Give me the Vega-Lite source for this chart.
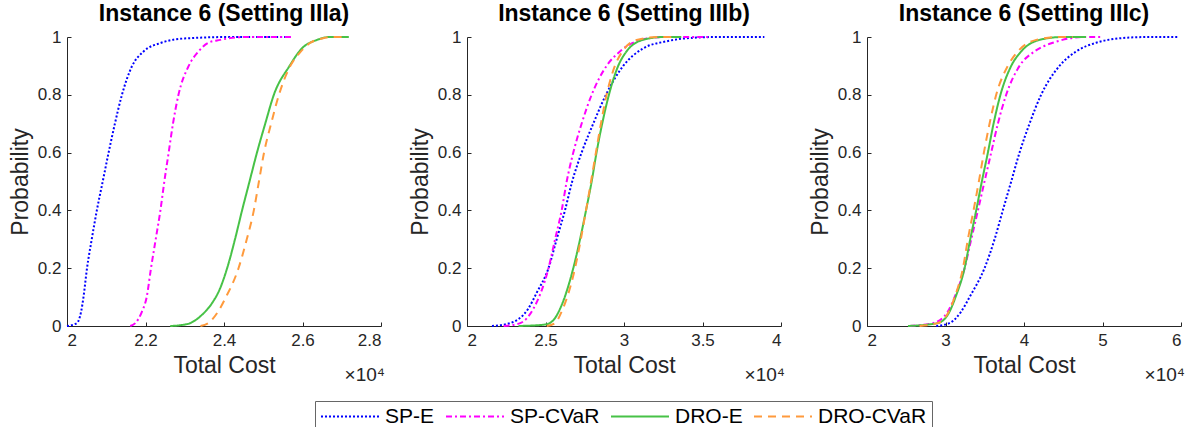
{
  "$schema": "https://vega.github.io/schema/vega-lite/v6.json",
  "padding": {"left": 9, "top": 3, "right": 0, "bottom": 0},
  "background": "white",
  "config": {
    "font": "Liberation Sans",
    "view": {"stroke": null},
    "axis": {
      "grid": false,
      "domainColor": "#262626",
      "tickColor": "#262626",
      "labelColor": "#262626",
      "titleColor": "#262626",
      "labelFont": "Liberation Sans",
      "titleFont": "Liberation Sans",
      "labelFontSize": 17,
      "titleFontSize": 23,
      "titleFontWeight": "normal",
      "tickSize": -4,
      "domainWidth": 1
    },
    "axisX": {"labelPadding": 10, "titlePadding": 6},
    "axisY": {"labelPadding": 10, "titlePadding": 5},
    "title": {"font": "Liberation Sans", "fontSize": 23, "fontWeight": "bold", "color": "black", "offset": 2},
    "legend": {
      "labelFont": "Liberation Sans",
      "labelFontSize": 21,
      "labelColor": "black",
      "symbolType": "stroke",
      "symbolSize": 3364,
      "symbolStrokeWidth": 2,
      "clipHeight": 21,
      "labelOffset": 5,
      "columnPadding": 10,
      "padding": 5,
      "strokeColor": "#666666",
      "fillColor": "white"
    }
  },
  "data": {"values": [
    {"s":"a","m":"SP-E","x":2.0,"y":0},{"s":"a","m":"SP-E","x":2.025,"y":0.01},{"s":"a","m":"SP-E","x":2.036,"y":0.05},{"s":"a","m":"SP-E","x":2.042,"y":0.1},{"s":"a","m":"SP-E","x":2.051,"y":0.2},{"s":"a","m":"SP-E","x":2.063,"y":0.3},{"s":"a","m":"SP-E","x":2.076,"y":0.4},{"s":"a","m":"SP-E","x":2.091,"y":0.5},{"s":"a","m":"SP-E","x":2.106,"y":0.6},{"s":"a","m":"SP-E","x":2.122,"y":0.7},{"s":"a","m":"SP-E","x":2.14,"y":0.8},{"s":"a","m":"SP-E","x":2.166,"y":0.9},{"s":"a","m":"SP-E","x":2.195,"y":0.95},{"s":"a","m":"SP-E","x":2.24,"y":0.98},{"s":"a","m":"SP-E","x":2.3,"y":0.995},{"s":"a","m":"SP-E","x":2.42,"y":1},{"s":"a","m":"SP-E","x":2.57,"y":1},
    {"s":"a","m":"SP-CVaR","x":2.161,"y":0},{"s":"a","m":"SP-CVaR","x":2.174,"y":0.01},{"s":"a","m":"SP-CVaR","x":2.191,"y":0.05},{"s":"a","m":"SP-CVaR","x":2.203,"y":0.1},{"s":"a","m":"SP-CVaR","x":2.214,"y":0.2},{"s":"a","m":"SP-CVaR","x":2.226,"y":0.3},{"s":"a","m":"SP-CVaR","x":2.238,"y":0.4},{"s":"a","m":"SP-CVaR","x":2.248,"y":0.5},{"s":"a","m":"SP-CVaR","x":2.259,"y":0.6},{"s":"a","m":"SP-CVaR","x":2.27,"y":0.7},{"s":"a","m":"SP-CVaR","x":2.284,"y":0.8},{"s":"a","m":"SP-CVaR","x":2.31,"y":0.9},{"s":"a","m":"SP-CVaR","x":2.335,"y":0.95},{"s":"a","m":"SP-CVaR","x":2.36,"y":0.98},{"s":"a","m":"SP-CVaR","x":2.39,"y":0.99},{"s":"a","m":"SP-CVaR","x":2.46,"y":1},{"s":"a","m":"SP-CVaR","x":2.577,"y":1},
    {"s":"a","m":"DRO-E","x":2.263,"y":0},{"s":"a","m":"DRO-E","x":2.29,"y":0.003},{"s":"a","m":"DRO-E","x":2.314,"y":0.01},{"s":"a","m":"DRO-E","x":2.345,"y":0.04},{"s":"a","m":"DRO-E","x":2.37,"y":0.08},{"s":"a","m":"DRO-E","x":2.39,"y":0.13},{"s":"a","m":"DRO-E","x":2.408,"y":0.2},{"s":"a","m":"DRO-E","x":2.428,"y":0.3},{"s":"a","m":"DRO-E","x":2.446,"y":0.4},{"s":"a","m":"DRO-E","x":2.465,"y":0.5},{"s":"a","m":"DRO-E","x":2.484,"y":0.6},{"s":"a","m":"DRO-E","x":2.505,"y":0.7},{"s":"a","m":"DRO-E","x":2.527,"y":0.8},{"s":"a","m":"DRO-E","x":2.567,"y":0.9},{"s":"a","m":"DRO-E","x":2.598,"y":0.96},{"s":"a","m":"DRO-E","x":2.637,"y":0.99},{"s":"a","m":"DRO-E","x":2.67,"y":1},{"s":"a","m":"DRO-E","x":2.718,"y":1},
    {"s":"a","m":"DRO-CVaR","x":2.34,"y":0},{"s":"a","m":"DRO-CVaR","x":2.36,"y":0.01},{"s":"a","m":"DRO-CVaR","x":2.385,"y":0.05},{"s":"a","m":"DRO-CVaR","x":2.405,"y":0.1},{"s":"a","m":"DRO-CVaR","x":2.437,"y":0.2},{"s":"a","m":"DRO-CVaR","x":2.458,"y":0.3},{"s":"a","m":"DRO-CVaR","x":2.476,"y":0.4},{"s":"a","m":"DRO-CVaR","x":2.489,"y":0.5},{"s":"a","m":"DRO-CVaR","x":2.502,"y":0.6},{"s":"a","m":"DRO-CVaR","x":2.52,"y":0.7},{"s":"a","m":"DRO-CVaR","x":2.54,"y":0.8},{"s":"a","m":"DRO-CVaR","x":2.569,"y":0.9},{"s":"a","m":"DRO-CVaR","x":2.596,"y":0.95},{"s":"a","m":"DRO-CVaR","x":2.62,"y":0.98},{"s":"a","m":"DRO-CVaR","x":2.65,"y":0.995},{"s":"a","m":"DRO-CVaR","x":2.67,"y":1},{"s":"a","m":"DRO-CVaR","x":2.713,"y":1},

    {"s":"b","m":"SP-E","x":2.159,"y":0},{"s":"b","m":"SP-E","x":2.275,"y":0.01},{"s":"b","m":"SP-E","x":2.39,"y":0.06},{"s":"b","m":"SP-E","x":2.444,"y":0.115},{"s":"b","m":"SP-E","x":2.519,"y":0.2},{"s":"b","m":"SP-E","x":2.571,"y":0.3},{"s":"b","m":"SP-E","x":2.624,"y":0.4},{"s":"b","m":"SP-E","x":2.67,"y":0.5},{"s":"b","m":"SP-E","x":2.73,"y":0.6},{"s":"b","m":"SP-E","x":2.804,"y":0.7},{"s":"b","m":"SP-E","x":2.885,"y":0.8},{"s":"b","m":"SP-E","x":2.995,"y":0.9},{"s":"b","m":"SP-E","x":3.12,"y":0.96},{"s":"b","m":"SP-E","x":3.27,"y":0.985},{"s":"b","m":"SP-E","x":3.46,"y":0.998},{"s":"b","m":"SP-E","x":3.6,"y":1},{"s":"b","m":"SP-E","x":3.894,"y":1},
    {"s":"b","m":"SP-CVaR","x":2.233,"y":0},{"s":"b","m":"SP-CVaR","x":2.339,"y":0.01},{"s":"b","m":"SP-CVaR","x":2.423,"y":0.06},{"s":"b","m":"SP-CVaR","x":2.519,"y":0.2},{"s":"b","m":"SP-CVaR","x":2.561,"y":0.3},{"s":"b","m":"SP-CVaR","x":2.603,"y":0.4},{"s":"b","m":"SP-CVaR","x":2.635,"y":0.5},{"s":"b","m":"SP-CVaR","x":2.677,"y":0.6},{"s":"b","m":"SP-CVaR","x":2.73,"y":0.7},{"s":"b","m":"SP-CVaR","x":2.794,"y":0.8},{"s":"b","m":"SP-CVaR","x":2.889,"y":0.9},{"s":"b","m":"SP-CVaR","x":2.974,"y":0.95},{"s":"b","m":"SP-CVaR","x":3.08,"y":0.985},{"s":"b","m":"SP-CVaR","x":3.25,"y":1},{"s":"b","m":"SP-CVaR","x":3.534,"y":1},
    {"s":"b","m":"DRO-E","x":2.328,"y":0},{"s":"b","m":"DRO-E","x":2.497,"y":0.005},{"s":"b","m":"DRO-E","x":2.55,"y":0.02},{"s":"b","m":"DRO-E","x":2.593,"y":0.06},{"s":"b","m":"DRO-E","x":2.677,"y":0.2},{"s":"b","m":"DRO-E","x":2.72,"y":0.3},{"s":"b","m":"DRO-E","x":2.758,"y":0.4},{"s":"b","m":"DRO-E","x":2.794,"y":0.5},{"s":"b","m":"DRO-E","x":2.825,"y":0.6},{"s":"b","m":"DRO-E","x":2.861,"y":0.7},{"s":"b","m":"DRO-E","x":2.904,"y":0.8},{"s":"b","m":"DRO-E","x":2.963,"y":0.9},{"s":"b","m":"DRO-E","x":3.016,"y":0.95},{"s":"b","m":"DRO-E","x":3.12,"y":0.99},{"s":"b","m":"DRO-E","x":3.25,"y":1},{"s":"b","m":"DRO-E","x":3.365,"y":1},
    {"s":"b","m":"DRO-CVaR","x":2.508,"y":0},{"s":"b","m":"DRO-CVaR","x":2.561,"y":0.01},{"s":"b","m":"DRO-CVaR","x":2.603,"y":0.05},{"s":"b","m":"DRO-CVaR","x":2.688,"y":0.2},{"s":"b","m":"DRO-CVaR","x":2.725,"y":0.3},{"s":"b","m":"DRO-CVaR","x":2.758,"y":0.4},{"s":"b","m":"DRO-CVaR","x":2.79,"y":0.5},{"s":"b","m":"DRO-CVaR","x":2.821,"y":0.6},{"s":"b","m":"DRO-CVaR","x":2.853,"y":0.7},{"s":"b","m":"DRO-CVaR","x":2.889,"y":0.8},{"s":"b","m":"DRO-CVaR","x":2.942,"y":0.9},{"s":"b","m":"DRO-CVaR","x":2.99,"y":0.95},{"s":"b","m":"DRO-CVaR","x":3.08,"y":0.99},{"s":"b","m":"DRO-CVaR","x":3.228,"y":1},{"s":"b","m":"DRO-CVaR","x":3.312,"y":1},

    {"s":"c","m":"SP-E","x":2.882,"y":0},{"s":"c","m":"SP-E","x":3.052,"y":0.01},{"s":"c","m":"SP-E","x":3.2,"y":0.05},{"s":"c","m":"SP-E","x":3.306,"y":0.1},{"s":"c","m":"SP-E","x":3.497,"y":0.2},{"s":"c","m":"SP-E","x":3.625,"y":0.3},{"s":"c","m":"SP-E","x":3.73,"y":0.4},{"s":"c","m":"SP-E","x":3.837,"y":0.5},{"s":"c","m":"SP-E","x":3.943,"y":0.6},{"s":"c","m":"SP-E","x":4.07,"y":0.7},{"s":"c","m":"SP-E","x":4.218,"y":0.8},{"s":"c","m":"SP-E","x":4.452,"y":0.9},{"s":"c","m":"SP-E","x":4.664,"y":0.95},{"s":"c","m":"SP-E","x":4.918,"y":0.98},{"s":"c","m":"SP-E","x":5.34,"y":0.998},{"s":"c","m":"SP-E","x":5.6,"y":1},{"s":"c","m":"SP-E","x":5.958,"y":1},
    {"s":"c","m":"SP-CVaR","x":2.543,"y":0},{"s":"c","m":"SP-CVaR","x":2.84,"y":0.01},{"s":"c","m":"SP-CVaR","x":3.03,"y":0.05},{"s":"c","m":"SP-CVaR","x":3.116,"y":0.1},{"s":"c","m":"SP-CVaR","x":3.243,"y":0.2},{"s":"c","m":"SP-CVaR","x":3.328,"y":0.3},{"s":"c","m":"SP-CVaR","x":3.413,"y":0.4},{"s":"c","m":"SP-CVaR","x":3.497,"y":0.5},{"s":"c","m":"SP-CVaR","x":3.582,"y":0.6},{"s":"c","m":"SP-CVaR","x":3.667,"y":0.7},{"s":"c","m":"SP-CVaR","x":3.773,"y":0.8},{"s":"c","m":"SP-CVaR","x":3.943,"y":0.9},{"s":"c","m":"SP-CVaR","x":4.134,"y":0.95},{"s":"c","m":"SP-CVaR","x":4.367,"y":0.98},{"s":"c","m":"SP-CVaR","x":4.79,"y":1},{"s":"c","m":"SP-CVaR","x":5.003,"y":1},
    {"s":"c","m":"DRO-E","x":2.522,"y":0},{"s":"c","m":"DRO-E","x":2.9,"y":0.01},{"s":"c","m":"DRO-E","x":3.052,"y":0.05},{"s":"c","m":"DRO-E","x":3.128,"y":0.1},{"s":"c","m":"DRO-E","x":3.243,"y":0.2},{"s":"c","m":"DRO-E","x":3.315,"y":0.3},{"s":"c","m":"DRO-E","x":3.391,"y":0.4},{"s":"c","m":"DRO-E","x":3.463,"y":0.5},{"s":"c","m":"DRO-E","x":3.54,"y":0.6},{"s":"c","m":"DRO-E","x":3.612,"y":0.7},{"s":"c","m":"DRO-E","x":3.7,"y":0.8},{"s":"c","m":"DRO-E","x":3.837,"y":0.9},{"s":"c","m":"DRO-E","x":3.964,"y":0.95},{"s":"c","m":"DRO-E","x":4.197,"y":0.99},{"s":"c","m":"DRO-E","x":4.494,"y":1},{"s":"c","m":"DRO-E","x":4.79,"y":1},
    {"s":"c","m":"DRO-CVaR","x":2.67,"y":0},{"s":"c","m":"DRO-CVaR","x":2.9,"y":0.01},{"s":"c","m":"DRO-CVaR","x":3.043,"y":0.05},{"s":"c","m":"DRO-CVaR","x":3.116,"y":0.1},{"s":"c","m":"DRO-CVaR","x":3.222,"y":0.2},{"s":"c","m":"DRO-CVaR","x":3.285,"y":0.3},{"s":"c","m":"DRO-CVaR","x":3.357,"y":0.4},{"s":"c","m":"DRO-CVaR","x":3.425,"y":0.5},{"s":"c","m":"DRO-CVaR","x":3.489,"y":0.6},{"s":"c","m":"DRO-CVaR","x":3.561,"y":0.7},{"s":"c","m":"DRO-CVaR","x":3.646,"y":0.8},{"s":"c","m":"DRO-CVaR","x":3.794,"y":0.9},{"s":"c","m":"DRO-CVaR","x":3.921,"y":0.95},{"s":"c","m":"DRO-CVaR","x":4.155,"y":0.99},{"s":"c","m":"DRO-CVaR","x":4.45,"y":1},{"s":"c","m":"DRO-CVaR","x":4.62,"y":1}
  ]},
  "bounds": "flush",
  "spacing": 86,
  "resolve": {"scale": {"x": "independent", "y": "independent", "color": "shared", "strokeDash": "shared"}, "legend": {"color": "shared", "strokeDash": "shared"}},
  "hconcat": [
    {
      "width": 314, "height": 289,
      "title": "Instance 6 (Setting IIIa)",
      "layer": [
        {
          "transform": [{"filter": "datum.s === 'a'"}],
          "mark": {"type": "line", "strokeWidth": 2, "interpolate": "monotone"},
          "encoding": {
            "x": {"field": "x", "type": "quantitative", "scale": {"domain": [2, 2.8], "nice": false}, "axis": {"values": [2, 2.2, 2.4, 2.6, 2.8], "format": "~g", "title": "Total Cost"}},
            "y": {"field": "y", "type": "quantitative", "scale": {"domain": [0, 1], "nice": false}, "axis": {"values": [0, 0.2, 0.4, 0.6, 0.8, 1], "format": "~g", "title": "Probability"}},
            "color": {"field": "m", "type": "nominal", "scale": {"domain": ["SP-E", "SP-CVaR", "DRO-E", "DRO-CVaR"], "range": ["#0000FF", "#FF00FF", "#47C247", "#FF9A3C"]}, "legend": {"orient": "none", "legendX": 248, "legendY": 364, "direction": "horizontal", "title": null}},
            "strokeDash": {"field": "m", "type": "nominal", "scale": {"domain": ["SP-E", "SP-CVaR", "DRO-E", "DRO-CVaR"], "range": [[2, 2], [6, 3, 2, 3], [1, 0], [8, 6]]}, "legend": {"orient": "none", "legendX": 248, "legendY": 364, "direction": "horizontal", "title": null}}
          }
        },
        {
          "data": {"values": [{"t": "×10⁴"}]},
          "mark": {"type": "text", "align": "right", "baseline": "alphabetic", "dy": 55, "dx": 4, "fontSize": 19, "color": "#262626"},
          "encoding": {
            "x": {"datum": 2.8, "type": "quantitative"},
            "y": {"datum": 0, "type": "quantitative"},
            "text": {"field": "t"}
          }
        }
      ]
    },
    {
      "width": 314, "height": 289,
      "title": "Instance 6 (Setting IIIb)",
      "layer": [
        {
          "transform": [{"filter": "datum.s === 'b'"}],
          "mark": {"type": "line", "strokeWidth": 2, "interpolate": "monotone"},
          "encoding": {
            "x": {"field": "x", "type": "quantitative", "scale": {"domain": [2, 4], "nice": false}, "axis": {"values": [2, 2.5, 3, 3.5, 4], "format": "~g", "title": "Total Cost"}},
            "y": {"field": "y", "type": "quantitative", "scale": {"domain": [0, 1], "nice": false}, "axis": {"values": [0, 0.2, 0.4, 0.6, 0.8, 1], "format": "~g", "title": "Probability"}},
            "color": {"field": "m", "type": "nominal", "scale": {"domain": ["SP-E", "SP-CVaR", "DRO-E", "DRO-CVaR"], "range": ["#0000FF", "#FF00FF", "#47C247", "#FF9A3C"]}, "legend": {"orient": "none", "legendX": 248, "legendY": 364, "direction": "horizontal", "title": null}},
            "strokeDash": {"field": "m", "type": "nominal", "scale": {"domain": ["SP-E", "SP-CVaR", "DRO-E", "DRO-CVaR"], "range": [[2, 2], [6, 3, 2, 3], [1, 0], [8, 6]]}, "legend": {"orient": "none", "legendX": 248, "legendY": 364, "direction": "horizontal", "title": null}}
          }
        },
        {
          "data": {"values": [{"t": "×10⁴"}]},
          "mark": {"type": "text", "align": "right", "baseline": "alphabetic", "dy": 55, "dx": 4, "fontSize": 19, "color": "#262626"},
          "encoding": {
            "x": {"datum": 4, "type": "quantitative"},
            "y": {"datum": 0, "type": "quantitative"},
            "text": {"field": "t"}
          }
        }
      ]
    },
    {
      "width": 314, "height": 289,
      "title": "Instance 6 (Setting IIIc)",
      "layer": [
        {
          "transform": [{"filter": "datum.s === 'c'"}],
          "mark": {"type": "line", "strokeWidth": 2, "interpolate": "monotone"},
          "encoding": {
            "x": {"field": "x", "type": "quantitative", "scale": {"domain": [2, 6], "nice": false}, "axis": {"values": [2, 3, 4, 5, 6], "format": "~g", "title": "Total Cost"}},
            "y": {"field": "y", "type": "quantitative", "scale": {"domain": [0, 1], "nice": false}, "axis": {"values": [0, 0.2, 0.4, 0.6, 0.8, 1], "format": "~g", "title": "Probability"}},
            "color": {"field": "m", "type": "nominal", "scale": {"domain": ["SP-E", "SP-CVaR", "DRO-E", "DRO-CVaR"], "range": ["#0000FF", "#FF00FF", "#47C247", "#FF9A3C"]}, "legend": {"orient": "none", "legendX": 248, "legendY": 364, "direction": "horizontal", "title": null}},
            "strokeDash": {"field": "m", "type": "nominal", "scale": {"domain": ["SP-E", "SP-CVaR", "DRO-E", "DRO-CVaR"], "range": [[2, 2], [6, 3, 2, 3], [1, 0], [8, 6]]}, "legend": {"orient": "none", "legendX": 248, "legendY": 364, "direction": "horizontal", "title": null}}
          }
        },
        {
          "data": {"values": [{"t": "×10⁴"}]},
          "mark": {"type": "text", "align": "right", "baseline": "alphabetic", "dy": 55, "dx": 4, "fontSize": 19, "color": "#262626"},
          "encoding": {
            "x": {"datum": 6, "type": "quantitative"},
            "y": {"datum": 0, "type": "quantitative"},
            "text": {"field": "t"}
          }
        }
      ]
    }
  ]
}
